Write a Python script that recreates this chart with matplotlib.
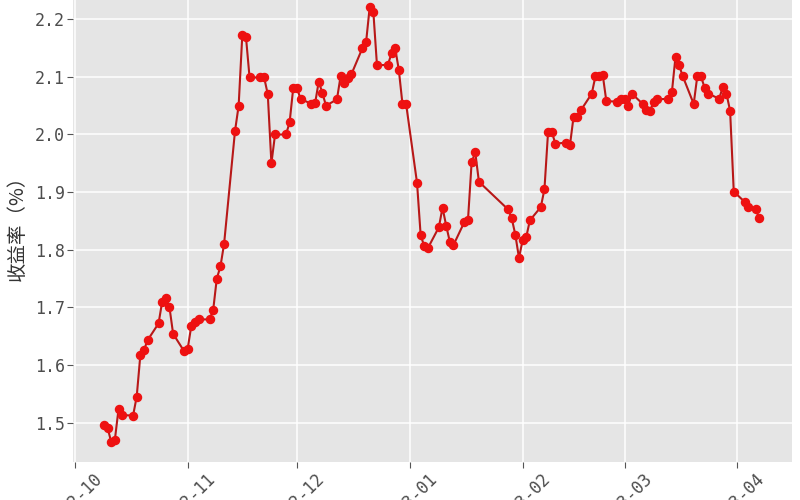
import matplotlib
matplotlib.use('Agg')
import matplotlib.pyplot as plt
import matplotlib.dates as mdates
from matplotlib.ticker import MultipleLocator, FormatStrFormatter
import pandas as pd

plt.style.use('ggplot')
plt.rcParams['font.family'] = ['DejaVu Sans Mono']

# 交易日
dates = [
    "2022-10-09", "2022-10-10", "2022-10-11", "2022-10-12", "2022-10-13", "2022-10-14",
    "2022-10-17", "2022-10-18", "2022-10-19", "2022-10-20", "2022-10-21",
    "2022-10-24", "2022-10-25", "2022-10-26", "2022-10-27", "2022-10-28",
    "2022-10-31", "2022-11-01", "2022-11-02", "2022-11-03", "2022-11-04",
    "2022-11-07", "2022-11-08", "2022-11-09", "2022-11-10", "2022-11-11",
    "2022-11-14", "2022-11-15", "2022-11-16", "2022-11-17", "2022-11-18",
    "2022-11-21", "2022-11-22", "2022-11-23", "2022-11-24", "2022-11-25",
    "2022-11-28", "2022-11-29", "2022-11-30", "2022-12-01", "2022-12-02",
    "2022-12-05", "2022-12-06", "2022-12-07", "2022-12-08", "2022-12-09",
    "2022-12-12", "2022-12-13", "2022-12-14", "2022-12-15", "2022-12-16",
    "2022-12-19", "2022-12-20", "2022-12-21", "2022-12-22", "2022-12-23",
    "2022-12-26", "2022-12-27", "2022-12-28", "2022-12-29", "2022-12-30", "2022-12-31",
    "2023-01-03", "2023-01-04", "2023-01-05", "2023-01-06",
    "2023-01-09", "2023-01-10", "2023-01-11", "2023-01-12", "2023-01-13",
    "2023-01-16", "2023-01-17", "2023-01-18", "2023-01-19", "2023-01-20",
    "2023-01-28", "2023-01-29", "2023-01-30", "2023-01-31", "2023-02-01", "2023-02-02", "2023-02-03",
    "2023-02-06", "2023-02-07", "2023-02-08", "2023-02-09", "2023-02-10",
    "2023-02-13", "2023-02-14", "2023-02-15", "2023-02-16", "2023-02-17",
    "2023-02-20", "2023-02-21", "2023-02-22", "2023-02-23", "2023-02-24",
    "2023-02-27", "2023-02-28", "2023-03-01", "2023-03-02", "2023-03-03",
    "2023-03-06", "2023-03-07", "2023-03-08", "2023-03-09", "2023-03-10",
    "2023-03-13", "2023-03-14", "2023-03-15", "2023-03-16", "2023-03-17",
    "2023-03-20", "2023-03-21", "2023-03-22", "2023-03-23", "2023-03-24",
    "2023-03-27", "2023-03-28", "2023-03-29", "2023-03-30", "2023-03-31",
    "2023-04-03", "2023-04-04", "2023-04-06", "2023-04-07",
]

# 收益率（%）
values = [
    1.495, 1.491, 1.466, 1.470, 1.523, 1.513,
    1.512, 1.545, 1.617, 1.626, 1.643,
    1.672, 1.710, 1.717, 1.700, 1.654,
    1.624, 1.628, 1.668, 1.675, 1.679,
    1.679, 1.695, 1.750, 1.771, 1.810,
    2.006, 2.050, 2.172, 2.170, 2.099,
    2.099, 2.099, 2.070, 1.950, 2.000,
    2.000, 2.021, 2.081, 2.081, 2.062,
    2.053, 2.054, 2.092, 2.072, 2.050,
    2.061, 2.101, 2.090, 2.098, 2.105,
    2.150, 2.160, 2.221, 2.213, 2.120,
    2.121, 2.141, 2.150, 2.112, 2.053, 2.053,
    1.916, 1.825, 1.806, 1.803,
    1.839, 1.873, 1.842, 1.814, 1.808,
    1.848, 1.852, 1.952, 1.969, 1.918,
    1.870, 1.855, 1.826, 1.786, 1.816, 1.822, 1.851,
    1.874, 1.905, 2.005, 2.005, 1.984,
    1.986, 1.981, 2.031, 2.031, 2.042,
    2.071, 2.101, 2.101, 2.104, 2.058,
    2.057, 2.061, 2.061, 2.050, 2.071,
    2.053, 2.043, 2.041, 2.057, 2.061,
    2.062, 2.073, 2.135, 2.120, 2.101,
    2.053, 2.102, 2.101, 2.081, 2.071,
    2.062, 2.083, 2.071, 2.041, 1.901,
    1.883, 1.874, 1.870, 1.855,
]

x = pd.to_datetime(dates)

fig = plt.figure(figsize=(8, 5), dpi=100)
# 面板顶部超出画布，与原图裁切一致
ax = fig.add_axes([73 / 800, 38.3 / 500, 719 / 800, 476.4 / 500])
ax.set_facecolor('#e5e5e5')

ax.plot(x, values, color='#b81818', lw=1.5, marker='o', ms=5.8,
        mfc='#ee1111', mec='#ee1111', zorder=3)

start = pd.Timestamp('2022-10-01')
ax.set_xlim(start - pd.Timedelta(hours=12), start + pd.Timedelta(days=197))
ax.set_ylim(1.432, 2.259)

ax.xaxis.set_major_locator(mdates.MonthLocator())
ax.xaxis.set_major_formatter(mdates.DateFormatter('%Y-%m'))
ax.yaxis.set_major_locator(MultipleLocator(0.1))
ax.yaxis.set_major_formatter(FormatStrFormatter('%.1f'))
ax.minorticks_off()

ax.grid(True, which='major', color='white', lw=1.1)
ax.tick_params(length=4, width=0.8, color='#555555', labelsize=12,
               labelcolor='#4d4d4d', pad=2)
ax.tick_params(axis='x', labelrotation=45)
for s in ax.spines.values():
    s.set_visible(False)

ax.set_ylabel('收益率（%）', fontsize=14, color='#333333',
              family=['Noto Sans CJK SC', 'DejaVu Sans'])
ax.yaxis.set_label_coords(-0.063, 0.5)

fig.savefig('out.png', dpi=100)
